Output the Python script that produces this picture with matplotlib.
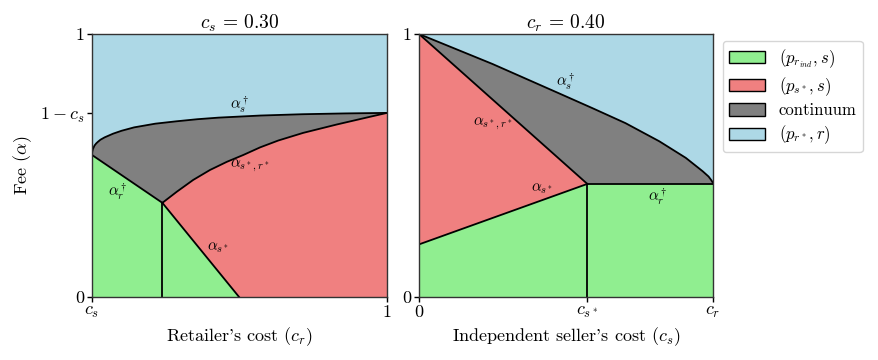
import matplotlib
matplotlib.use("Agg")
import matplotlib.pyplot as plt
from matplotlib.patches import Patch

plt.rcParams['font.family'] = ['cmr10', 'DejaVu Serif']
plt.rcParams['mathtext.fontset'] = 'cm'
plt.rcParams['axes.unicode_minus'] = False
plt.rcParams['axes.formatter.use_mathtext'] = True

C_GREEN = '#90EE90'
C_RED = '#F08080'
C_GRAY = '#808080'
C_BLUE = '#ADD8E6'

# ---------------- Left panel data (c_s = 0.30) ----------------
cs_left = 0.30
# alpha_s^dagger (upper curve)
L_sdag_x = [0.3, 0.3005, 0.302, 0.306, 0.31, 0.314, 0.32, 0.33, 0.35, 0.37, 0.40, 0.45,
            0.50, 0.55, 0.60, 0.65, 0.70, 0.80, 0.90, 1.0]
L_sdag_y = [0.54, 0.552, 0.562, 0.576, 0.584, 0.590, 0.598, 0.607, 0.621, 0.632, 0.645, 0.659,
            0.668, 0.676, 0.682, 0.686, 0.690, 0.695, 0.698, 0.70]
# alpha_{s*,r*}
L_ssr_x = [0.467, 0.501, 0.540, 0.580, 0.620, 0.659, 0.699, 0.742, 0.801, 0.881, 0.959, 1.0]
L_ssr_y = [0.358, 0.400, 0.445, 0.483, 0.514, 0.540, 0.569, 0.595, 0.624, 0.656, 0.685, 0.70]
# alpha_r^dagger (line)
L_rdag_x = [0.3, 0.467]
L_rdag_y = [0.54, 0.358]
# alpha_{s*} (line)
L_s_x = [0.467, 0.649]
L_s_y = [0.358, 0.0]

# ---------------- Right panel data (c_r = 0.40) ----------------
cr_right = 0.40
cs_star = 0.229
# alpha_s^dagger
R_sdag_x = [0.0, 0.10, 0.19, 0.236, 0.281, 0.327, 0.363, 0.386, 0.394, 0.398, 0.3995, 0.40]
R_sdag_y = [1.0, 0.886, 0.775, 0.718, 0.661, 0.592, 0.529, 0.478, 0.458, 0.443, 0.436, 0.43]
# alpha_{s*,r*}
R_ssr_x = [0.0, 0.229]
R_ssr_y = [1.0, 0.43]
# alpha_{s*}
R_s_x = [0.0, 0.229]
R_s_y = [0.20, 0.43]
# alpha_r^dagger
R_rdag_x = [0.229, 0.40]
R_rdag_y = [0.43, 0.43]

fig = plt.figure(figsize=(8.79, 3.6), dpi=100)
ax1 = fig.add_axes([92/879, 1-297/360, 295/879, 263/360])
ax2 = fig.add_axes([419/879, 1-297/360, 294/879, 263/360])

lw = 1.3
# ---- left fills ----
ax1.set_facecolor(C_BLUE)
gx = L_sdag_x + L_ssr_x[::-1] + L_rdag_x[::-1]
gy = L_sdag_y + L_ssr_y[::-1] + L_rdag_y[::-1]
ax1.fill(gx, gy, color=C_GRAY, lw=0)
rx = L_ssr_x + [1.0] + L_s_x[::-1]
ry = L_ssr_y + [0.0] + L_s_y[::-1]
ax1.fill(rx, ry, color=C_RED, lw=0)
grx = L_rdag_x + L_s_x + [0.3]
gry = L_rdag_y + L_s_y + [0.0]
ax1.fill(grx, gry, color=C_GREEN, lw=0)
ax1.plot(L_sdag_x, L_sdag_y, color='k', lw=lw)
ax1.plot(L_ssr_x, L_ssr_y, color='k', lw=lw)
ax1.plot(L_rdag_x, L_rdag_y, color='k', lw=lw)
ax1.plot(L_s_x, L_s_y, color='k', lw=lw)
ax1.plot([L_s_x[0], L_s_x[0]], [0, L_s_y[0]], color='k', lw=lw)

ax1.set_xlim(cs_left, 1)
ax1.set_ylim(0, 1)
ax1.set_xticks([cs_left, 1])
ax1.set_xticklabels([r'$c_s$', '1'])
ax1.set_yticks([0, 1 - cs_left, 1])
ax1.set_yticklabels(['0', r'$1-c_s$', '1'])
ax1.set_xlabel("Retailer's cost ($c_r$)", fontsize=13)
ax1.set_ylabel(r'Fee ($\alpha$)', fontsize=13)
ax1.set_title(r'$c_s\,=\,0.30$', fontsize=14, pad=3)

fs = 11
ax1.text(0.65, 0.73, r'$\alpha_s^\dagger$', fontsize=fs, ha='center', va='center')
ax1.text(0.362, 0.40, r'$\alpha_r^\dagger$', fontsize=fs, ha='center', va='center')
ax1.text(0.675, 0.50, r'$\alpha_{s^*,r^*}$', fontsize=fs, ha='center', va='center')
ax1.text(0.60, 0.186, r'$\alpha_{s^*}$', fontsize=fs, ha='center', va='center')

# ---- right fills ----
ax2.set_facecolor(C_BLUE)
gx = R_sdag_x + R_rdag_x[::-1] + R_ssr_x[::-1]
gy = R_sdag_y + R_rdag_y[::-1] + R_ssr_y[::-1]
ax2.fill(gx, gy, color=C_GRAY, lw=0)
rx = R_ssr_x + R_s_x[::-1]
ry = R_ssr_y + R_s_y[::-1]
ax2.fill(rx, ry, color=C_RED, lw=0)
grx = R_s_x + [cr_right, cr_right, 0.0]
gry = R_s_y + [R_rdag_y[-1], 0.0, 0.0]
ax2.fill(grx, gry, color=C_GREEN, lw=0)
ax2.plot(R_sdag_x, R_sdag_y, color='k', lw=lw)
ax2.plot(R_ssr_x, R_ssr_y, color='k', lw=lw)
ax2.plot(R_s_x, R_s_y, color='k', lw=lw)
ax2.plot(R_rdag_x, R_rdag_y, color='k', lw=lw)
ax2.plot([cs_star, cs_star], [0, R_s_y[-1]], color='k', lw=lw)

ax2.set_xlim(0, cr_right)
ax2.set_ylim(0, 1)
ax2.set_xticks([0, cs_star, cr_right])
ax2.set_xticklabels(['0', r'$c_{s^*}$', r'$c_r$'])
ax2.set_yticks([0, 1])
ax2.set_yticklabels(['0', '1'])
ax2.set_xlabel("Independent seller's cost ($c_s$)", fontsize=13)
ax2.set_title(r'$c_r\,=\,0.40$', fontsize=14, pad=3)

ax2.text(0.20, 0.82, r'$\alpha_s^\dagger$', fontsize=fs, ha='center', va='center')
ax2.text(0.10, 0.658, r'$\alpha_{s^*,r^*}$', fontsize=fs, ha='center', va='center')
ax2.text(0.167, 0.411, r'$\alpha_{s^*}$', fontsize=fs, ha='center', va='center')
ax2.text(0.325, 0.383, r'$\alpha_r^\dagger$', fontsize=fs, ha='center', va='center')

for ax in (ax1, ax2):
    for s in ax.spines.values():
        s.set_color('#333333')
        s.set_linewidth(1.0)
    ax.tick_params(labelsize=13, length=3.5, width=1.0, pad=2)

handles = [Patch(facecolor=C_GREEN, edgecolor='k', label=r'$(p_{r_{ind}}, s)$'),
           Patch(facecolor=C_RED, edgecolor='k', label=r'$(p_{s^*}, s)$'),
           Patch(facecolor=C_GRAY, edgecolor='k', label='continuum'),
           Patch(facecolor=C_BLUE, edgecolor='k', label=r'$(p_{r^*}, r)$')]
fig.legend(handles=handles, loc='upper left', bbox_to_anchor=(723/879, 1-41/360),
           borderaxespad=0, fontsize=12, frameon=True, handlelength=2.2, handleheight=0.75,
           borderpad=0.35, labelspacing=0.32, handletextpad=0.8)

fig.savefig('out.png', dpi=100)
